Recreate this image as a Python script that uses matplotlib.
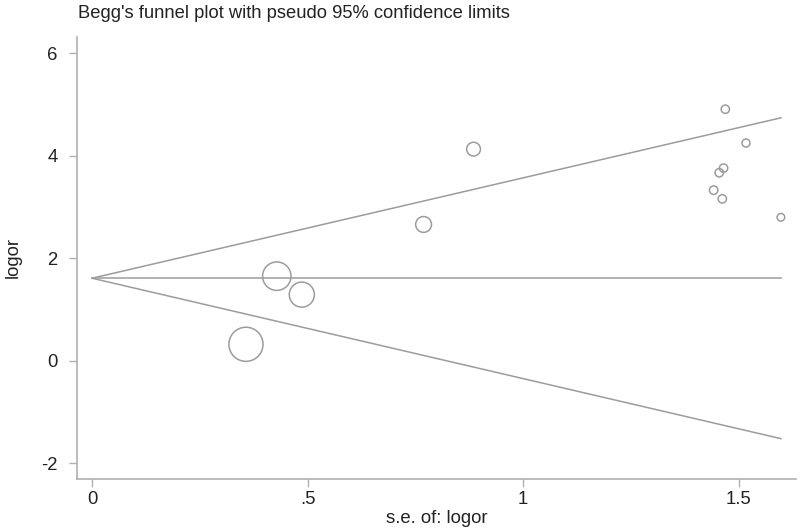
import matplotlib
matplotlib.use("Agg")
import matplotlib.pyplot as plt
import numpy as np

plt.rcParams['font.family'] = ['Liberation Sans', 'DejaVu Sans']

# Study data: standard error and log odds ratio
se = [0.357, 0.4285, 0.4865, 0.769, 0.885, 1.469, 1.517, 1.465, 1.455, 1.442, 1.462, 1.598]
logor = [0.32, 1.65, 1.29, 2.66, 4.13, 4.91, 4.25, 3.76, 3.67, 3.33, 3.16, 2.80]
pooled = 1.61

x_ticks = [0, 0.5, 1, 1.5]
x_ticklabels = ["0", ".5", "1", "1.5"]
y_ticks = [-2, 0, 2, 4, 6]
y_ticklabels = ["-2", "0", "2", "4", "6"]

se_a = np.array(se)
lo_a = np.array(logor)

fig = plt.figure(figsize=(8, 5.3), dpi=100)
ax = fig.add_axes([77/800, 1-479/530, (796-77)/800, (479-37)/530])

grey = '#9c9c9c'
smax = se_a.max()
ax.plot([0, smax], [pooled, pooled + 1.96*smax], color=grey, lw=1.1)
ax.plot([0, smax], [pooled, pooled - 1.96*smax], color=grey, lw=1.1)
ax.plot([0, smax], [pooled, pooled], color=grey, lw=1.1)

ax.scatter(se_a, lo_a, s=77/se_a**2, facecolors='none', edgecolors=grey, linewidths=1.1, zorder=3)

ax.set_xlim(-0.035, 1.633)
ax.set_ylim(-2.31, 6.32)
ax.set_xticks(x_ticks)
ax.set_xticklabels(x_ticklabels)
ax.set_yticks(y_ticks)
ax.set_yticklabels(y_ticklabels)

for s in ['top', 'right']:
    ax.spines[s].set_visible(False)
for s in ['left', 'bottom']:
    ax.spines[s].set_color('#b0b0b0')
    ax.spines[s].set_linewidth(1.2)
ax.tick_params(axis='both', colors='#b0b0b0', labelcolor='#222222', length=6, width=1, labelsize=13.3, direction='out')
ax.tick_params(axis='y', pad=8)
ax.tick_params(axis='x', pad=3)

ax.set_xlabel("s.e. of: logor", fontsize=13.3, color='#222222', labelpad=1)
ax.set_ylabel("logor", fontsize=13.3, color='#222222', labelpad=14)
fig.text(78/800, 1-13/530, "Begg's funnel plot with pseudo 95% confidence limits", fontsize=13.2,
         color='#222222', ha='left', va='center')

fig.savefig("out.png", dpi=100, facecolor='white')
